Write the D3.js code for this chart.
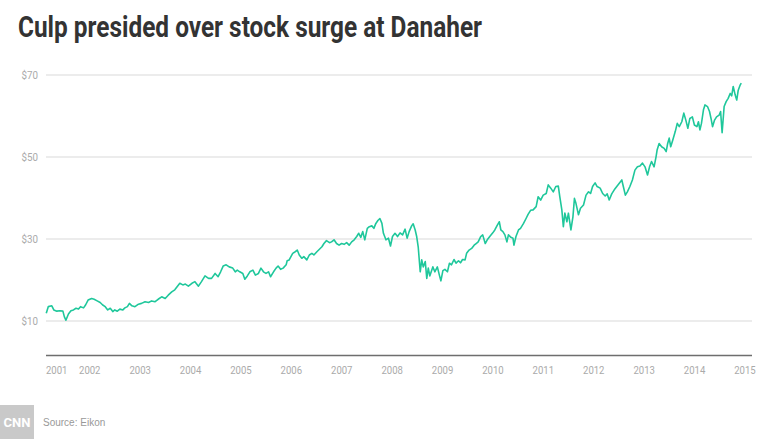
<!DOCTYPE html>
<html>
<head>
<meta charset="utf-8">
<script src="https://cdn.jsdelivr.net/npm/d3@7"></script>
<style>
  html, body { margin: 0; padding: 0; background: #fff; }
  svg { display: block; }
</style>
</head>
<body>
<div id="chart"></div>
<script>
// ---- data (decimal year, closing price in USD) ----
const years = [
2001.35,2001.39,2001.46,2001.50,2001.56,2001.62,2001.68,2001.71,2001.74,2001.79,2001.84,2001.89,2001.94,2001.99,
2002.03,2002.09,2002.13,2002.18,2002.25,2002.30,2002.36,2002.42,2002.47,2002.52,2002.57,2002.62,2002.67,2002.71,2002.76,2002.81,2002.87,2002.91,2002.96,
2003.00,2003.05,2003.11,2003.18,2003.24,2003.31,2003.38,2003.44,2003.51,2003.57,2003.64,2003.71,2003.77,2003.84,2003.90,2003.95,
2004.00,2004.06,2004.11,2004.17,2004.24,2004.30,2004.37,2004.43,2004.50,2004.57,2004.63,2004.70,2004.76,2004.81,2004.86,2004.92,2004.98,
2005.05,2005.10,2005.14,2005.19,2005.25,2005.29,2005.34,2005.39,2005.45,2005.50,2005.56,2005.61,2005.66,2005.71,2005.76,2005.80,2005.86,2005.91,2005.95,
2006.00,2006.05,2006.11,2006.13,2006.17,2006.24,2006.29,2006.33,2006.37,2006.42,2006.46,2006.52,2006.57,2006.62,2006.66,2006.72,2006.77,2006.82,2006.86,2006.91,2006.97,
2007.01,2007.06,2007.11,2007.16,2007.21,2007.26,2007.31,2007.36,2007.41,2007.46,2007.51,2007.55,2007.59,2007.63,2007.67,2007.72,2007.76,2007.81,2007.85,2007.89,2007.93,2007.97,
2008.01,2008.04,2008.09,2008.14,2008.18,2008.22,2008.27,2008.32,2008.37,2008.42,2008.47,2008.51,2008.55,2008.60,2008.63,2008.67,2008.70,2008.73,2008.77,2008.80,2008.83,2008.87,2008.90,2008.93,2008.96,
2009.02,2009.06,2009.11,2009.15,2009.18,2009.22,2009.26,2009.31,2009.35,2009.39,2009.44,2009.48,2009.53,2009.57,2009.61,2009.66,2009.69,2009.74,2009.79,2009.84,2009.88,2009.92,2009.97,
2010.01,2010.06,2010.10,2010.15,2010.21,2010.25,2010.30,2010.34,2010.37,2010.41,2010.45,2010.49,2010.52,2010.57,2010.61,2010.63,2010.67,2010.72,2010.76,2010.82,2010.87,2010.91,2010.96,
2011.01,2011.07,2011.11,2011.16,2011.21,2011.27,2011.31,2011.36,2011.41,2011.46,2011.51,2011.54,2011.58,2011.61,2011.64,2011.68,2011.71,2011.76,2011.80,2011.83,2011.86,2011.91,2011.95,
2012.01,2012.06,2012.11,2012.15,2012.19,2012.24,2012.28,2012.34,2012.39,2012.44,2012.48,2012.52,2012.57,2012.62,2012.67,2012.72,2012.77,2012.80,2012.84,2012.88,2012.93,2012.98,
2013.03,2013.08,2013.13,2013.18,2013.23,2013.28,2013.32,2013.36,2013.41,2013.45,2013.47,2013.51,2013.56,2013.61,2013.65,2013.68,2013.71,2013.74,2013.78,2013.83,2013.87,2013.91,2013.96,
2014.00,2014.04,2014.08,2014.12,2014.17,2014.21,2014.26,2014.29,2014.32,2014.35,2014.39,2014.42,2014.47,2014.51,2014.54,2014.57,2014.61,2014.65,2014.70,2014.73,2014.76,2014.80,2014.84,2014.88,2014.92,2014.95,2014.98,
2015.02,2015.05,2015.08,2015.12,2015.14
];
const prices = [
11.9,13.5,13.7,12.7,12.4,12.5,12.4,11.0,10.2,11.7,12.5,12.7,13.1,12.9,
13.5,13.2,13.9,15.1,15.5,15.3,14.9,14.5,13.9,13.5,12.7,13.1,12.3,12.7,12.4,12.9,12.7,13.2,13.5,
14.3,13.7,13.5,14.1,14.3,14.7,14.5,14.9,14.7,15.3,15.9,15.5,16.3,17.1,17.6,18.4,
19.2,18.8,19.0,18.5,19.2,19.6,18.5,19.6,21.0,20.4,20.4,21.6,20.8,22.0,23.4,23.7,23.2,
22.9,22.0,22.4,22.0,21.6,20.2,21.0,22.0,22.4,21.2,21.6,22.9,22.0,21.6,22.0,20.8,22.0,22.9,23.4,
22.6,22.9,23.7,24.7,24.9,26.5,26.9,27.3,26.1,25.3,25.7,24.9,26.1,26.5,26.1,26.9,27.5,28.1,28.9,29.6,29.1,
29.3,29.8,28.9,28.5,28.9,28.7,29.1,28.5,29.3,29.8,30.6,31.4,30.4,31.8,29.8,32.6,33.0,33.2,32.6,33.8,34.5,35.0,
33.8,31.4,29.8,30.2,28.3,30.6,31.4,30.6,31.5,31.0,32.4,30.2,31.8,33.2,33.7,32.2,30.6,28.1,22.0,24.9,23.2,24.5,20.4,22.9,21.0,
23.2,22.0,23.2,21.2,19.8,22.3,22.6,22.0,24.1,23.7,25.0,24.1,24.7,24.2,25.0,24.9,26.5,27.3,27.7,28.5,28.9,29.3,30.6,
31.0,28.9,29.8,30.6,31.5,32.2,33.4,34.2,32.2,31.8,31.0,29.3,31.0,30.4,30.2,28.5,30.6,32.2,32.6,33.8,35.0,36.0,37.0,
37.1,37.9,40.3,39.5,40.7,41.1,43.2,42.4,41.5,42.8,42.9,40.3,37.1,33.0,36.3,34.2,36.3,32.2,35.4,39.9,38.7,35.9,37.5,
38.3,40.7,41.5,41.1,42.8,43.7,42.8,42.4,41.1,40.5,41.0,39.5,41.0,42.0,42.8,43.6,44.4,42.8,40.7,41.5,42.8,44.4,
46.8,47.6,47.8,48.5,47.6,45.6,47.6,48.9,47.6,50.1,51.7,53.3,52.5,52.1,51.3,53.3,54.6,52.5,54.1,56.2,58.2,57.4,58.6,
60.7,59.0,57.0,59.4,59.8,57.8,57.4,58.6,56.6,58.2,61.5,62.7,62.3,61.1,59.4,57.4,59.0,59.8,60.2,61.1,55.9,62.3,63.5,64.3,65.5,64.9,67.2,
65.1,63.9,66.3,67.6,68.0
];
const yTicks = [10, 30, 50, 70];
const yTickLabels = ["$10", "$30", "$50", "$70"];
const xTicks = [2001.345, 2002, 2003, 2004, 2005, 2006, 2007, 2008, 2009, 2010, 2011, 2012, 2013, 2014, 2015];
const xTickLabels = ["2001","2002","2003","2004","2005","2006","2007","2008","2009","2010","2011","2012","2013","2014","2015"];
const titleText = "Culp presided over stock surge at Danaher";
const sourceText = "Source: Eikon";

// ---- layout ----
const W = 780, H = 439;
const plotLeft = 46, plotRight = 752, baseY = 355.5;

const svg = d3.select("#chart").append("svg")
  .attr("width", W).attr("height", H);

const x = d3.scaleLinear().domain([2001.345, 2015.353]).range([plotLeft, plotRight]);
const y = d3.scaleLinear().domain([10, 70]).range([321, 75]);

// title
svg.append("text")
  .attr("x", 18).attr("y", 37)
  .attr("font-family", "Roboto, 'Open Sans', sans-serif")
  .attr("font-weight", 700)
  .attr("font-size", 29)
  .attr("fill", "#333333")
  .attr("textLength", 464)
  .attr("lengthAdjust", "spacingAndGlyphs")
  .text(titleText);

// gridlines
svg.append("g").selectAll("line")
  .data(yTicks).join("line")
  .attr("x1", plotLeft).attr("x2", plotRight)
  .attr("y1", d => y(d)).attr("y2", d => y(d))
  .attr("stroke", "#e6e6e6").attr("stroke-width", 1.5);

// y labels
svg.append("g").selectAll("text")
  .data(yTicks).join("text")
  .attr("x", 38).attr("y", d => y(d) + 4)
  .attr("text-anchor", "end")
  .attr("font-family", "Roboto, sans-serif")
  .attr("font-size", 11.5)
  .attr("fill", "#aaaaaa")
  .attr("textLength", 16.5)
  .attr("lengthAdjust", "spacingAndGlyphs")
  .text((d, i) => yTickLabels[i]);

// baseline
svg.append("line")
  .attr("x1", plotLeft).attr("x2", plotRight)
  .attr("y1", baseY).attr("y2", baseY)
  .attr("stroke", "#6e6e6e").attr("stroke-width", 1.5);

// x labels
svg.append("g").selectAll("text")
  .data(xTicks).join("text")
  .attr("x", d => x(d))
  .attr("y", 374)
  .attr("text-anchor", "start")
  .attr("font-family", "Roboto, sans-serif")
  .attr("font-size", 11.5)
  .attr("fill", "#aaaaaa")
  .attr("textLength", 21.5)
  .attr("lengthAdjust", "spacingAndGlyphs")
  .text((d, i) => xTickLabels[i]);

// line
const pts = years.map((t, i) => [t, prices[i]]);
const line = d3.line().x(d => x(d[0])).y(d => y(d[1]));
svg.append("path")
  .datum(pts)
  .attr("d", line)
  .attr("fill", "none")
  .attr("stroke", "#1fc79b")
  .attr("stroke-width", 1.6)
  .attr("stroke-linejoin", "round");

// footer: CNN logo + source
svg.append("rect")
  .attr("x", 0).attr("y", 405).attr("width", 34).attr("height", 34)
  .attr("fill", "#c9c9c9");
svg.append("text")
  .attr("x", 17).attr("y", 427)
  .attr("text-anchor", "middle")
  .attr("font-family", "Roboto, sans-serif")
  .attr("font-weight", 700)
  .attr("font-size", 13)
  .attr("fill", "#ffffff")
  .attr("textLength", 27)
  .attr("lengthAdjust", "spacingAndGlyphs")
  .text("CNN");
svg.append("text")
  .attr("x", 43).attr("y", 426)
  .attr("font-family", "'Liberation Sans', Arial, sans-serif")
  .attr("font-size", 10)
  .attr("fill", "#999999")
  .text(sourceText);
</script>
</body>
</html>
